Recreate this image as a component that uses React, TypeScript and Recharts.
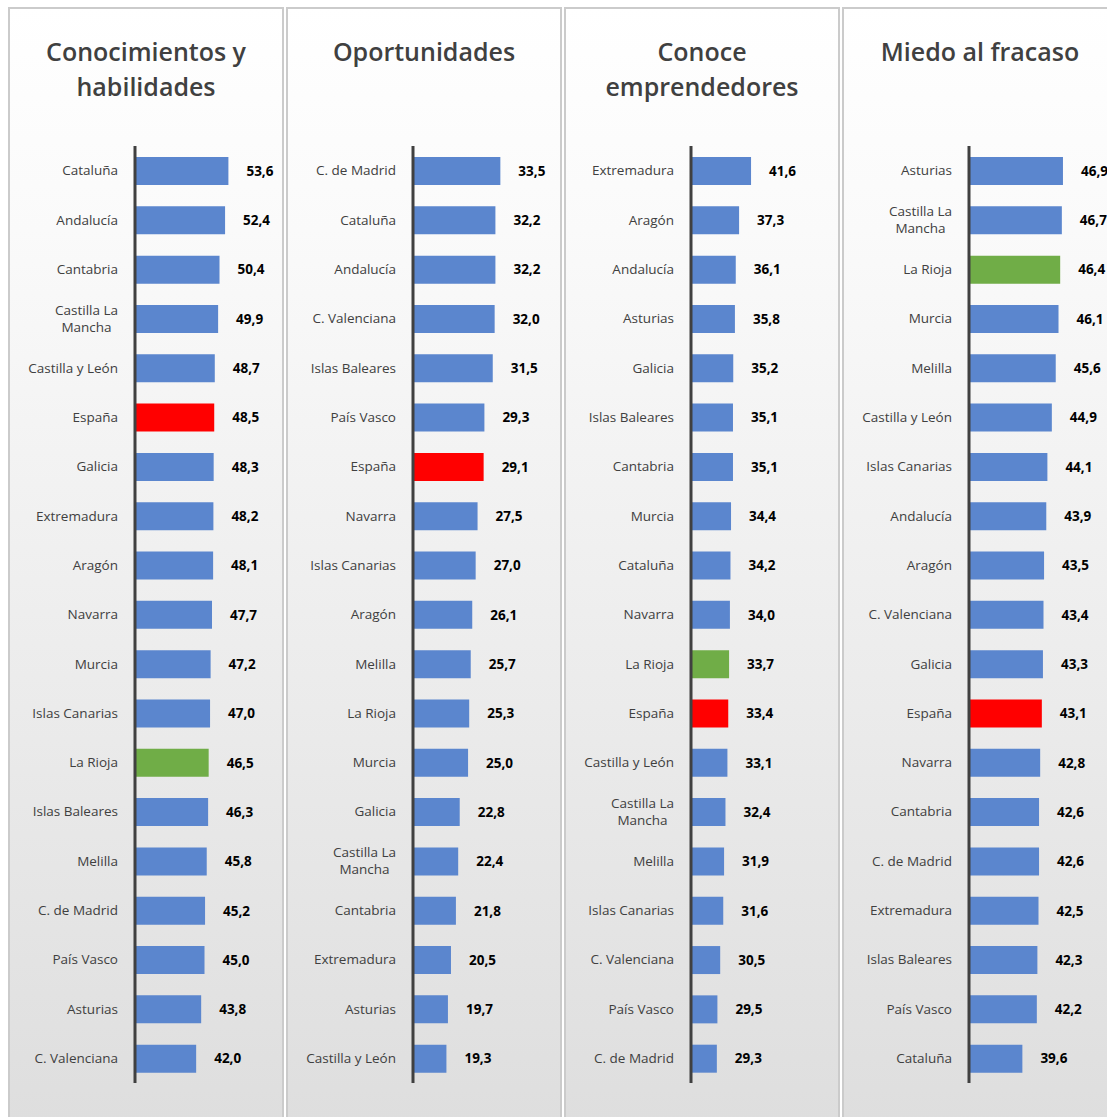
import React from "react";
import { BarChart, Bar, XAxis, YAxis, Cell, LabelList } from "recharts";

const titles1 = ["Conocimientos y", "habilidades"];
const names1 = ["Cataluña", "Andalucía", "Cantabria", "Castilla La Mancha", "Castilla y León", "España", "Galicia", "Extremadura", "Aragón", "Navarra", "Murcia", "Islas Canarias", "La Rioja", "Islas Baleares", "Melilla", "C. de Madrid", "País Vasco", "Asturias", "C. Valenciana"];
const values1 = [53.6, 52.4, 50.4, 49.9, 48.7, 48.5, 48.3, 48.2, 48.1, 47.7, 47.2, 47.0, 46.5, 46.3, 45.8, 45.2, 45.0, 43.8, 42.0];
const domain1: [number, number] = [20, 70];
const green1 = ["La Rioja"];

const titles2 = ["Oportunidades"];
const names2 = ["C. de Madrid", "Cataluña", "Andalucía", "C. Valenciana", "Islas Baleares", "País Vasco", "España", "Navarra", "Islas Canarias", "Aragón", "Melilla", "La Rioja", "Murcia", "Galicia", "Castilla La Mancha", "Cantabria", "Extremadura", "Asturias", "Castilla y León"];
const values2 = [33.5, 32.2, 32.2, 32.0, 31.5, 29.3, 29.1, 27.5, 27.0, 26.1, 25.7, 25.3, 25.0, 22.8, 22.4, 21.8, 20.5, 19.7, 19.3];
const domain2: [number, number] = [10.5, 47.1];
const green2: string[] = [];

const titles3 = ["Conoce", "emprendedores"];
const names3 = ["Extremadura", "Aragón", "Andalucía", "Asturias", "Galicia", "Islas Baleares", "Cantabria", "Murcia", "Cataluña", "Navarra", "La Rioja", "España", "Castilla y León", "Castilla La Mancha", "Melilla", "Islas Canarias", "C. Valenciana", "País Vasco", "C. de Madrid"];
const values3 = [41.6, 37.3, 36.1, 35.8, 35.2, 35.1, 35.1, 34.4, 34.2, 34.0, 33.7, 33.4, 33.1, 32.4, 31.9, 31.6, 30.5, 29.5, 29.3];
const domain3: [number, number] = [20, 70];
const green3 = ["La Rioja"];

const titles4 = ["Miedo al fracaso"];
const names4 = ["Asturias", "Castilla La Mancha", "La Rioja", "Murcia", "Melilla", "Castilla y León", "Islas Canarias", "Andalucía", "Aragón", "C. Valenciana", "Galicia", "España", "Navarra", "Cantabria", "C. de Madrid", "Extremadura", "Islas Baleares", "País Vasco", "Cataluña"];
const values4 = [46.9, 46.7, 46.4, 46.1, 45.6, 44.9, 44.1, 43.9, 43.5, 43.4, 43.3, 43.1, 42.8, 42.6, 42.6, 42.5, 42.3, 42.2, 39.6];
const domain4: [number, number] = [30, 55];
const green4 = ["La Rioja"];

const redNames = ["España"];

const BLUE = "#5B86CE";
const RED = "#FF0000";
const GREEN = "#70AD47";
const FONT = "'Open Sans', 'Noto Sans', sans-serif";

const PANEL_W = 276;
const PANEL_H = 1114;
const AXIS_W = 127;
const PLOT_W = 139;
const MARGIN_TOP = 139;
const CHART_H = 1110;
const MARGIN_BOTTOM = 34;

let ctx: CanvasRenderingContext2D | null = null;
function measure(text: string, font: string): number {
  if (typeof document === "undefined") return text.length * 7;
  if (!ctx) ctx = document.createElement("canvas").getContext("2d");
  if (!ctx) return text.length * 7;
  ctx.font = font;
  return ctx.measureText(text).width;
}

function wrapName(name: string): string[] {
  if (name.length > 15) {
    const i = name.lastIndexOf(" ");
    if (i > 0) return [name.slice(0, i), name.slice(i + 1)];
  }
  return [name];
}

const TICK_FONT_SIZE = 13.5;
const LABEL_RIGHT = AXIS_W - 17;

function CategoryTick(props: any) {
  const { y, payload } = props;
  const lines = wrapName(String(payload.value));
  if (lines.length === 1) {
    return (
      <text x={LABEL_RIGHT} y={y} dy="0.35em" textAnchor="end" fill="#404040" fontSize={TICK_FONT_SIZE} fontFamily={FONT}>
        {lines[0]}
      </text>
    );
  }
  const font = `${TICK_FONT_SIZE}px 'Open Sans'`;
  const w = Math.max(...lines.map((l) => measure(l, font)));
  const cx = LABEL_RIGHT - w / 2;
  return (
    <text x={cx} y={y} textAnchor="middle" fill="#404040" fontSize={TICK_FONT_SIZE} fontFamily={FONT}>
      <tspan x={cx} dy="-0.3em">{lines[0]}</tspan>
      <tspan x={cx} dy="1.28em">{lines[1]}</tspan>
    </text>
  );
}

const fmt = (v: any) => Number(v).toFixed(1).replace(".", ",");

function Panel({ left, titles, names, values, domain, greens }: { left: number; titles: string[]; names: string[]; values: number[]; domain: [number, number]; greens: string[] }) {
  const data = names.map((n, i) => ({ name: n, value: values[i] }));
  const colorFor = (name: string) => (redNames.includes(name) ? RED : greens.includes(name) ? GREEN : BLUE);
  return (
    <div
      style={{
        position: "absolute",
        left,
        top: 7,
        width: PANEL_W,
        height: PANEL_H,
        background: "linear-gradient(to bottom, #ffffff 0%, #fafafa 20%, #dedede 100%)",
        boxShadow: "inset 0 0 0 2px #cbcbcb",
      }}
    >
      <div
        style={{
          position: "absolute",
          left: 0,
          top: 27,
          width: PANEL_W,
          textAlign: "center",
          fontFamily: FONT,
          fontWeight: 600,
          fontSize: 25,
          lineHeight: "35px",
          color: "#404040",
        }}
      >
        {titles.map((t, i) => (
          <div key={i}>{t}</div>
        ))}
      </div>
      <div style={{ position: "absolute", left: 0, top: 0 }}>
        <BarChart
          width={AXIS_W + PLOT_W}
          height={CHART_H}
          data={data}
          layout="vertical"
          margin={{ top: MARGIN_TOP, right: 0, bottom: MARGIN_BOTTOM, left: 0 }}
        >
          <XAxis type="number" domain={domain} hide allowDataOverflow />
          <YAxis
            type="category"
            dataKey="name"
            width={AXIS_W}
            axisLine={{ stroke: "#404040", strokeWidth: 3 }}
            tickLine={false}
            tick={<CategoryTick />}
            interval={0}
          />
          <Bar dataKey="value" barSize={28} isAnimationActive={false}>
            {data.map((d, i) => (
              <Cell key={i} fill={colorFor(d.name)} />
            ))}
            <LabelList
              dataKey="value"
              position="right"
              offset={18}
              formatter={fmt}
              fill="#000000"
              fontSize={13.5}
              fontWeight={700}
              fontFamily={FONT}
            />
          </Bar>
        </BarChart>
      </div>
    </div>
  );
}

export default function App() {
  return (
    <div style={{ position: "absolute", left: 0, top: 0, width: 1107, height: 1117, overflow: "hidden", background: "#ffffff" }}>
      <Panel left={8} titles={titles1} names={names1} values={values1} domain={domain1} greens={green1} />
      <Panel left={286} titles={titles2} names={names2} values={values2} domain={domain2} greens={green2} />
      <Panel left={564} titles={titles3} names={names3} values={values3} domain={domain3} greens={green3} />
      <Panel left={842} titles={titles4} names={names4} values={values4} domain={domain4} greens={green4} />
    </div>
  );
}
